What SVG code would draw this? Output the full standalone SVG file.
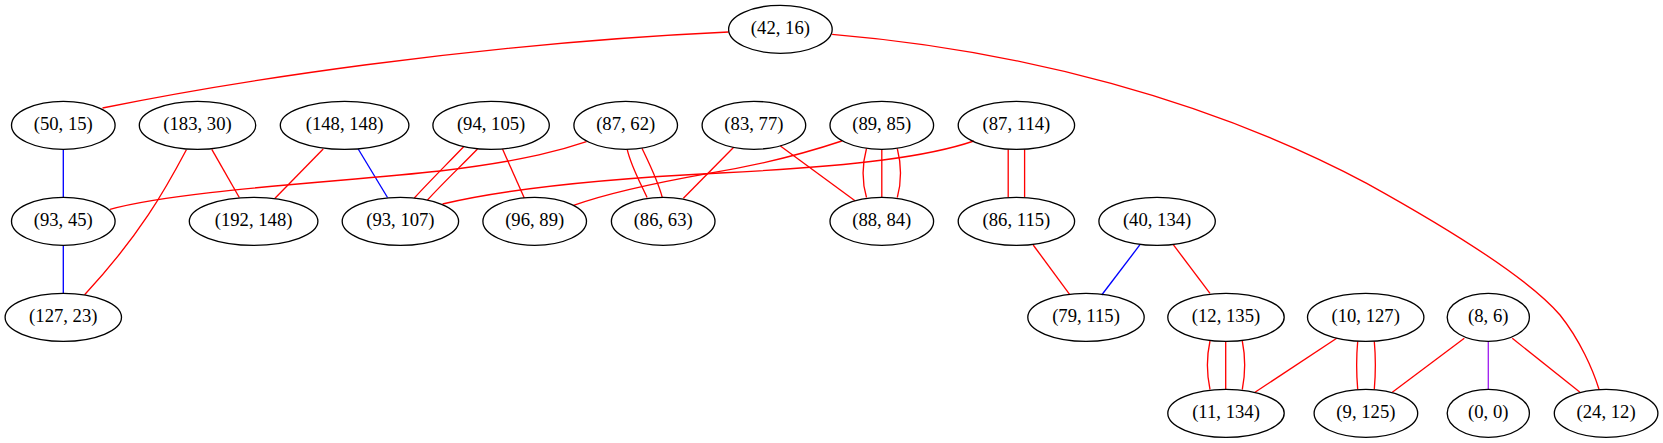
<svg xmlns="http://www.w3.org/2000/svg" width="1663" height="443" viewBox="0 0 1663 443">
<style>
.node ellipse{fill:none;stroke:#000;stroke-width:1.33}
.node text{font-family:Liberation Serif,Times New Roman,Times,serif;font-size:18.67px;text-anchor:middle;fill:#000}
.e{fill:none;stroke-width:1.33}
.r{stroke:#ff0000}
.b{stroke:#0000ff}
.p{stroke:#a020f0}
</style>
<rect width="1663" height="443" fill="#fff"/>
<g id="edges">
<path class="e r" d="M728.6,32 C470,44 230,82 102.5,108"/>
<path class="e r" d="M832.1,34.3 C1020,50 1210,100 1366.7,183.3 C1460,235 1530,280 1560,315 C1580,340 1593,370 1599,389.3"/>
<path class="e b" d="M63.3,149.3 L63.3,197.3"/>
<path class="e b" d="M63.3,245.3 L63.3,293.3"/>
<path class="e r" d="M211.8,149.3 L239.3,197.5"/>
<path class="e r" d="M186.4,149.7 C165,190 140,235 84.6,294.7"/>
<path class="e r" d="M323.2,149 L275,198.3"/>
<path class="e b" d="M358.2,149 L387.5,197.5"/>
<path class="e r" d="M463.6,146.7 C447,164 430,181 414.3,198"/>
<path class="e r" d="M477.5,149 C461,166 443,183 427.5,200"/>
<path class="e r" d="M502.5,149 L524.3,198"/>
<path class="e r" d="M586.5,141.7 C565,149 530,160 440,171 C340,182 180,190 110,209.3"/>
<path class="e r" d="M973.8,141 C930,156 860,166 720,173 C620,178 510,188 442.5,204"/>
<path class="e r" d="M841.8,141 C800,155 760,165 708.6,173.3 C660,182 610,192 573.5,205.4"/>
<path class="e r" d="M627.2,149.3 C631,166 640,182 647.1,197.5"/>
<path class="e r" d="M642,148.3 C650,165 658,181 662.3,197.5"/>
<path class="e r" d="M733.7,147.3 L683.4,198.3"/>
<path class="e r" d="M780.4,146 L855,200.7"/>
<path class="e r" d="M866.5,148.5 C862,165 862,182 866.5,197.5"/>
<path class="e r" d="M881.8,149.3 L881.8,197.3"/>
<path class="e r" d="M897.3,148.5 C901.5,165 901.5,182 897.3,197.5"/>
<path class="e r" d="M1008.2,149.3 L1008.2,197.3"/>
<path class="e r" d="M1024.6,149.3 L1024.6,197.3"/>
<path class="e r" d="M1033.2,245 L1069.6,294.3"/>
<path class="e b" d="M1140,244.7 L1101.7,295"/>
<path class="e r" d="M1173.3,244.7 L1210,293.3"/>
<path class="e r" d="M1210,341 C1206.5,357 1206.5,373 1210,389.5"/>
<path class="e r" d="M1225.7,341.3 L1225.7,389.3"/>
<path class="e r" d="M1242.3,341 C1245.5,357 1245.5,373 1242.3,389.5"/>
<path class="e r" d="M1336.7,338.3 L1255,392.3"/>
<path class="e r" d="M1357.7,341.3 C1356.3,357 1356.3,373 1357.7,389.3"/>
<path class="e r" d="M1374.3,341.3 C1375.7,357 1375.7,373 1374.3,389.3"/>
<path class="e r" d="M1464.3,338.3 L1392.3,392.3"/>
<path class="e p" d="M1488.3,341.3 L1488.3,389.3"/>
<path class="e r" d="M1512.3,338.3 L1580,392.3"/>
</g>
<g id="nodes">
<g id="n42_16" class="node"><ellipse cx="780.4" cy="29.3" rx="51.8" ry="24"/><text x="780.4" y="34.3">(42, 16)</text></g>
<g id="n50_15" class="node"><ellipse cx="63.3" cy="125.3" rx="51.8" ry="24"/><text x="63.3" y="130.3">(50, 15)</text></g>
<g id="n183_30" class="node"><ellipse cx="197.5" cy="125.3" rx="58.2" ry="24"/><text x="197.5" y="130.3">(183, 30)</text></g>
<g id="n148_148" class="node"><ellipse cx="344.6" cy="125.3" rx="64.3" ry="24"/><text x="344.6" y="130.3">(148, 148)</text></g>
<g id="n94_105" class="node"><ellipse cx="491.1" cy="125.3" rx="58.2" ry="24"/><text x="491.1" y="130.3">(94, 105)</text></g>
<g id="n87_62" class="node"><ellipse cx="625.7" cy="125.3" rx="51.8" ry="24"/><text x="625.7" y="130.3">(87, 62)</text></g>
<g id="n83_77" class="node"><ellipse cx="753.9" cy="125.3" rx="51.8" ry="24"/><text x="753.9" y="130.3">(83, 77)</text></g>
<g id="n89_85" class="node"><ellipse cx="881.8" cy="125.3" rx="51.8" ry="24"/><text x="881.8" y="130.3">(89, 85)</text></g>
<g id="n87_114" class="node"><ellipse cx="1016.4" cy="125.3" rx="58.2" ry="24"/><text x="1016.4" y="130.3">(87, 114)</text></g>
<g id="n93_45" class="node"><ellipse cx="63.3" cy="221.3" rx="51.8" ry="24"/><text x="63.3" y="226.3">(93, 45)</text></g>
<g id="n192_148" class="node"><ellipse cx="253.6" cy="221.3" rx="64.3" ry="24"/><text x="253.6" y="226.3">(192, 148)</text></g>
<g id="n93_107" class="node"><ellipse cx="400.4" cy="221.3" rx="58.2" ry="24"/><text x="400.4" y="226.3">(93, 107)</text></g>
<g id="n96_89" class="node"><ellipse cx="534.7" cy="221.3" rx="51.8" ry="24"/><text x="534.7" y="226.3">(96, 89)</text></g>
<g id="n86_63" class="node"><ellipse cx="663.2" cy="221.3" rx="51.8" ry="24"/><text x="663.2" y="226.3">(86, 63)</text></g>
<g id="n88_84" class="node"><ellipse cx="881.8" cy="221.3" rx="51.8" ry="24"/><text x="881.8" y="226.3">(88, 84)</text></g>
<g id="n86_115" class="node"><ellipse cx="1016.4" cy="221.3" rx="58.2" ry="24"/><text x="1016.4" y="226.3">(86, 115)</text></g>
<g id="n40_134" class="node"><ellipse cx="1157.1" cy="221.3" rx="58.2" ry="24"/><text x="1157.1" y="226.3">(40, 134)</text></g>
<g id="n127_23" class="node"><ellipse cx="63.3" cy="317.3" rx="58.2" ry="24"/><text x="63.3" y="322.3">(127, 23)</text></g>
<g id="n79_115" class="node"><ellipse cx="1086" cy="317.3" rx="58.2" ry="24"/><text x="1086" y="322.3">(79, 115)</text></g>
<g id="n12_135" class="node"><ellipse cx="1226" cy="317.3" rx="58.2" ry="24"/><text x="1226" y="322.3">(12, 135)</text></g>
<g id="n10_127" class="node"><ellipse cx="1365.7" cy="317.3" rx="58.2" ry="24"/><text x="1365.7" y="322.3">(10, 127)</text></g>
<g id="n8_6" class="node"><ellipse cx="1488.3" cy="317.3" rx="41.1" ry="24"/><text x="1488.3" y="322.3">(8, 6)</text></g>
<g id="n11_134" class="node"><ellipse cx="1226" cy="413.3" rx="58.2" ry="24"/><text x="1226" y="418.3">(11, 134)</text></g>
<g id="n9_125" class="node"><ellipse cx="1365.9" cy="413.3" rx="51.8" ry="24"/><text x="1365.9" y="418.3">(9, 125)</text></g>
<g id="n0_0" class="node"><ellipse cx="1488.3" cy="413.3" rx="41.1" ry="24"/><text x="1488.3" y="418.3">(0, 0)</text></g>
<g id="n24_12" class="node"><ellipse cx="1606.1" cy="413.3" rx="51.8" ry="24"/><text x="1606.1" y="418.3">(24, 12)</text></g>
</g>
</svg>
